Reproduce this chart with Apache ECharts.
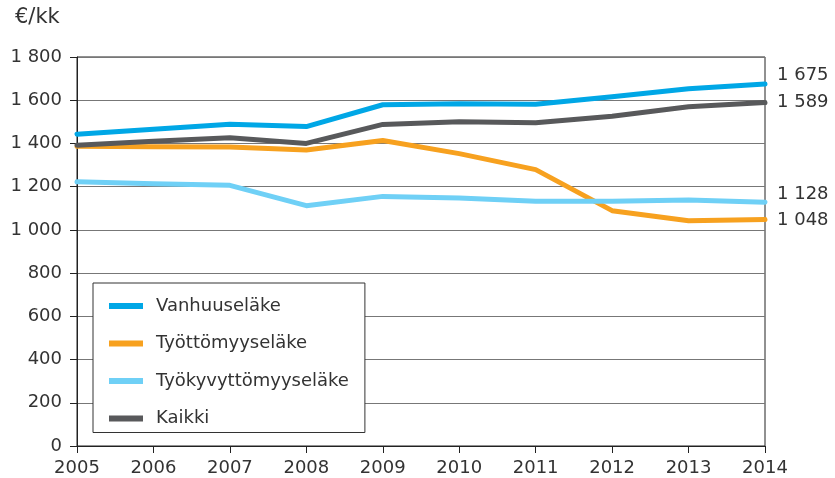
<!DOCTYPE html>
<html><head><meta charset="utf-8">
<script src="https://cdn.jsdelivr.net/npm/echarts@6/dist/echarts.min.js"></script>
<style>html,body{margin:0;padding:0;background:#fff}#c{width:835px;height:478px}</style>
</head><body><div id="c"></div>
<script>
const years = ['2005','2006','2007','2008','2009','2010','2011','2012','2013','2014'];
const vanhuus = [1443,1466,1489,1478,1579,1584,1581,1616,1653,1675];
const tyottomyys = [1387,1385,1384,1370,1414,1353,1279,1089,1042,1048];
const tyokyvyttomyys = [1223,1213,1206,1112,1155,1148,1132,1132,1138,1128];
const kaikki = [1392,1410,1426,1400,1488,1500,1496,1526,1570,1589];
const names = ['Vanhuuseläke','Työttömyyseläke','Työkyvyttömyyseläke','Kaikki'];
const yTicks = {min:0, max:1800, interval:200};

const fmt = v => String(v).replace(/\B(?=(\d{3})+(?!\d))/g, ' ');
const FONT = 'DejaVu Sans';
const colors = ['#00a7e6','#f7a11f','#6fd0f6','#58595b'];
const offsets = [[10,-9],[10,1],[10,-8],[10,0]];
const datas = [vanhuus, tyottomyys, tyokyvyttomyys, kaikki];

const chart = echarts.init(document.getElementById('c'));
chart.setOption({
  animation:false,
  textStyle:{fontFamily:FONT},
  grid:{left:77,right:70,top:57,bottom:32,show:true,borderColor:'#222',borderWidth:1,backgroundColor:'transparent'},
  graphic:[{type:'text',left:15,top:7,style:{text:'€/kk',font:'21px "DejaVu Sans"',fill:'#333'}}],
  legend:{
    orient:'vertical', left:93, top:283, data:names,
    backgroundColor:'#fff', borderColor:'#333', borderWidth:1, borderRadius:0,
    padding:[13,16,4,16], itemGap:17.5, itemWidth:34, itemHeight:6,
    icon:'rect',
    textStyle:{fontFamily:FONT,fontSize:18,color:'#333',lineHeight:20,padding:[0,0,0,8]}
  },
  xAxis:{type:'category',data:years,boundaryGap:false,
    axisLine:{lineStyle:{color:'#222',width:1}},
    axisTick:{show:true,length:7,lineStyle:{color:'#222'}},
    axisLabel:{fontFamily:FONT,fontSize:18,color:'#333',margin:13},
    splitLine:{show:false}},
  yAxis:{type:'value',min:yTicks.min,max:yTicks.max,interval:yTicks.interval,
    axisLine:{show:true,lineStyle:{color:'#222'}},
    axisTick:{show:true,length:7,lineStyle:{color:'#222'}},
    axisLabel:{fontFamily:FONT,fontSize:18,color:'#333',margin:15,formatter:fmt},
    splitLine:{lineStyle:{color:'#777',width:1}}},
  series: names.map((n,i)=>({
    name:n,type:'line',data:datas[i],symbol:'none',smooth:false,
    itemStyle:{color:colors[i]},
    lineStyle:{color:colors[i],width:5,cap:'round',join:'round'},
    z: i===3?3:2,
    endLabel:{show:true,formatter:p=>fmt(p.value),fontFamily:FONT,fontSize:18,color:'#333',offset:offsets[i],distance:2}
  }))
});
</script></body></html>
